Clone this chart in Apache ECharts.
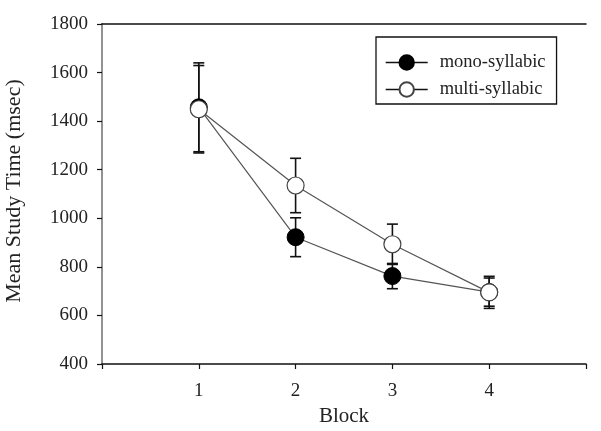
<!DOCTYPE html>
<html>
<head>
<meta charset="utf-8">
<script src="https://cdn.jsdelivr.net/npm/echarts@6/dist/echarts.min.js"></script>
<style>
  html, body { margin: 0; padding: 0; background: #fff; }
  #chart { width: 601px; height: 431px; }
</style>
</head>
<body>
<div id="chart"></div>
<script>
// Mean study time per block, with error bars
const blocks = [1, 2, 3, 4];
const monoMean = [1457, 922, 762, 696];
const monoErr = [183, 80, 52, 58];
const multiMean = [1449, 1135, 893, 695];
const multiErr = [180, 112, 83, 66];
const yTicks = [400, 600, 800, 1000, 1200, 1400, 1600, 1800];

const FONT = "'Liberation Serif', 'Times New Roman', serif";

const chart = echarts.init(document.getElementById('chart'));

function errorSeries(name, means, errs) {
  return {
    name: name + ' err',
    type: 'custom',
    z: 1,
    silent: true,
    data: blocks.map((b, i) => [b, means[i] - errs[i], means[i] + errs[i]]),
    renderItem(params, api) {
      const lo = api.coord([api.value(0), api.value(1)]);
      const hi = api.coord([api.value(0), api.value(2)]);
      const w = 5.5;
      const style = { stroke: '#111', lineWidth: 1.6 };
      return {
        type: 'group',
        children: [
          { type: 'line', shape: { x1: lo[0], y1: lo[1], x2: hi[0], y2: hi[1] }, style },
          { type: 'line', shape: { x1: lo[0] - w, y1: lo[1], x2: lo[0] + w, y2: lo[1] }, style },
          { type: 'line', shape: { x1: hi[0] - w, y1: hi[1], x2: hi[0] + w, y2: hi[1] }, style },
        ],
      };
    },
  };
}

chart.setOption({
  animation: false,
  backgroundColor: '#fff',
  grid: { left: 102, right: 15, top: 24, bottom: 67, containLabel: false, outerBoundsMode: 'none' },
  legend: {
    left: 376,
    top: 37,
    orient: 'vertical',
    data: ['mono-syllabic', 'multi-syllabic'],
    itemWidth: 42,
    itemHeight: 18,
    itemGap: 8,
    padding: [16, 11, 5, 9],
    borderColor: '#111',
    borderWidth: 1.3,
    lineStyle: { color: '#111', width: 1.4 },
    textStyle: { fontFamily: FONT, fontSize: 18.5, lineHeight: 19, color: '#222', padding: [0, 0, 0, 7] },
  },
  xAxis: [{
    type: 'value',
    min: 0,
    max: 5,
    interval: 1,
    name: 'Block',
    nameLocation: 'middle',
    nameGap: 42,
    nameTextStyle: { fontFamily: FONT, fontSize: 21, color: '#222' },
    splitLine: { show: false },
    axisLine: { lineStyle: { color: '#111', width: 1.5 } },
    axisTick: { length: 5, lineStyle: { color: '#111', width: 1.2 } },
    axisLabel: {
      margin: 18,
      fontFamily: FONT, fontSize: 19, color: '#222',
      formatter: v => (blocks.includes(v) ? String(v) : ''),
    },
  }, {
    type: 'value',
    position: 'top',
    min: 0,
    max: 5,
    axisLine: { show: true, lineStyle: { color: '#111', width: 1.5 } },
    axisTick: { show: false },
    axisLabel: { show: false },
    splitLine: { show: false },
  }],
  yAxis: [{
    type: 'value',
    min: yTicks[0],
    max: yTicks[yTicks.length - 1],
    interval: 200,
    name: 'Mean Study Time (msec)',
    nameLocation: 'middle',
    nameGap: 77,
    nameTextStyle: { fontFamily: FONT, fontSize: 22, color: '#222', padding: [0, 0, 0, 6] },
    splitLine: { show: false },
    axisLine: { show: true, lineStyle: { color: '#111', width: 1.5 } },
    axisTick: { show: true, length: 5, lineStyle: { color: '#111', width: 1.2 } },
    axisLabel: {
      margin: 14, fontFamily: FONT, fontSize: 19, color: '#222',
      formatter: v => String(v),
    },
  }, {
    type: 'value',
    position: 'right',
    min: yTicks[0],
    max: yTicks[yTicks.length - 1],
    axisLine: { show: true, lineStyle: { color: '#aaa', width: 1.5 } },
    axisTick: { show: false },
    axisLabel: { show: false },
    splitLine: { show: false },
  }],
  series: [
    errorSeries('mono', monoMean, monoErr),
    errorSeries('multi', multiMean, multiErr),
    {
      name: 'mono-syllabic',
      type: 'line',
      z: 3,
      data: blocks.map((b, i) => [b, monoMean[i]]),
      symbol: 'circle',
      symbolSize: 17,
      itemStyle: { color: '#000', borderColor: '#000', borderWidth: 1 },
      lineStyle: { color: '#555', width: 1.2 },
    },
    {
      name: 'multi-syllabic',
      type: 'line',
      z: 4,
      data: blocks.map((b, i) => [b, multiMean[i]]),
      symbol: 'circle',
      symbolSize: 17,
      itemStyle: { color: '#fff', borderColor: '#444', borderWidth: 1.2 },
      lineStyle: { color: '#555', width: 1.2 },
    },
  ],
});
</script>
</body>
</html>
